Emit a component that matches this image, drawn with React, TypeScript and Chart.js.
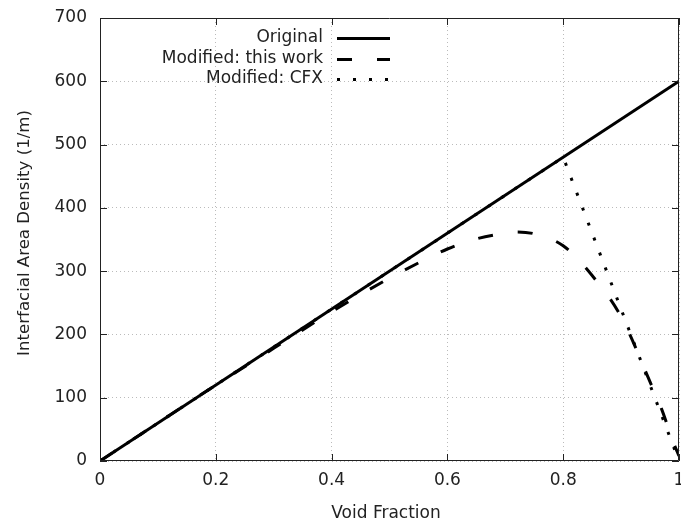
import React, { useEffect, useRef } from "react";
import { Chart, registerables } from "chart.js";

Chart.register(...registerables);

const xOriginal = [0, 1];
const yOriginal = [0, 600];

const xThisWork = [0, 0.1, 0.2, 0.3, 0.35, 0.4, 0.45, 0.5, 0.55, 0.6, 0.65, 0.7, 0.72, 0.75, 0.8, 0.85, 0.9, 0.95, 0.97, 0.99, 1.0];
const yThisWork = [0, 60, 120, 178, 207, 236, 263, 289, 313, 335, 351, 360, 362, 359, 340, 293, 228, 125, 82, 30, 8];

const xCFX = [0, 0.8, 1.0];
const yCFX = [0, 480, 0];

const xTicks = [0, 0.2, 0.4, 0.6, 0.8, 1];
const yTicks = [0, 100, 200, 300, 400, 500, 600, 700];

const legendLabels = ["Original", "Modified: this work", "Modified: CFX"];
const xTitle = "Void Fraction";
const yTitle = "Interfacial Area Density (1/m)";

const FONT = "DejaVu Sans";
const FONT_SIZE = 17;
const dashes: number[][] = [[], [15, 25], [3, 13]];

function pts(xs: number[], ys: number[]) {
  return xs.map((x, i) => ({ x, y: ys[i] }));
}

export default function App() {
  const ref = useRef<HTMLCanvasElement | null>(null);

  useEffect(() => {
    if (!ref.current) return;
    const framePlugin = {
      id: "frame",
      afterDatasetsDraw(chart: any) {
        const { ctx, chartArea } = chart;
        const { left, right, top, bottom } = chartArea;
        const xs = chart.scales.x;
        const ys = chart.scales.y;
        ctx.save();
        ctx.setLineDash([]);
        ctx.strokeStyle = "#222";
        ctx.lineWidth = 1;
        ctx.beginPath();
        ctx.rect(left + 0.5, top + 0.5, right - left - 1, bottom - top - 1);
        ctx.stroke();
        const tl = 7;
        ctx.beginPath();
        xTicks.forEach((v) => {
          const px = Math.round(xs.getPixelForValue(v)) + 0.5;
          ctx.moveTo(px, bottom);
          ctx.lineTo(px, bottom - tl);
          ctx.moveTo(px, top);
          ctx.lineTo(px, top + tl);
        });
        yTicks.forEach((v) => {
          const py = Math.round(ys.getPixelForValue(v)) + 0.5;
          ctx.moveTo(left, py);
          ctx.lineTo(left + tl, py);
          ctx.moveTo(right, py);
          ctx.lineTo(right - tl, py);
        });
        ctx.stroke();

        // legend
        ctx.font = `${FONT_SIZE}px "${FONT}"`;
        ctx.fillStyle = "#222";
        ctx.textAlign = "right";
        ctx.textBaseline = "middle";
        const rowsY = [38, 59, 79];
        legendLabels.forEach((lab, i) => {
          ctx.fillText(lab, 323, rowsY[i]);
          ctx.save();
          ctx.strokeStyle = "#000";
          ctx.lineWidth = 3;
          ctx.setLineDash(dashes[i]);
          ctx.beginPath();
          ctx.moveTo(337, rowsY[i] + 0.5);
          ctx.lineTo(390, rowsY[i] + 0.5);
          ctx.stroke();
          ctx.restore();
        });

        // axis titles
        ctx.textAlign = "center";
        ctx.fillText(xTitle, 386, 514);
        ctx.save();
        ctx.translate(25, 233);
        ctx.rotate(-Math.PI / 2);
        ctx.font = `16.6px "${FONT}"`;
        ctx.fillText(yTitle, 0, 0);
        ctx.restore();
        ctx.restore();
      },
    };

    const chart = new Chart(ref.current, {
      type: "line",
      data: {
        datasets: [
          {
            label: legendLabels[0],
            data: pts(xOriginal, yOriginal),
            borderColor: "#000",
            borderWidth: 3,
            pointRadius: 0,
            tension: 0,
          },
          {
            label: legendLabels[1],
            data: pts(xThisWork, yThisWork),
            borderColor: "#000",
            borderWidth: 3,
            borderDash: dashes[1],
            pointRadius: 0,
            cubicInterpolationMode: "monotone",
          },
          {
            label: legendLabels[2],
            data: pts(xCFX, yCFX),
            borderColor: "#000",
            borderWidth: 3,
            borderDash: dashes[2],
            pointRadius: 0,
            tension: 0,
          },
        ],
      },
      options: {
        animation: false,
        responsive: false,
        maintainAspectRatio: false,
        layout: { padding: { top: 18, right: 2, left: 0, bottom: 0 } },
        plugins: {
          legend: { display: false },
          tooltip: { enabled: false },
        },
        scales: {
          x: {
            type: "linear",
            min: 0,
            max: 1,
            afterBuildTicks: (scale: any) => {
              scale.ticks = xTicks.map((v) => ({ value: v }));
            },
            afterFit: (scale: any) => {
              scale.height = 64;
              scale.paddingRight = 0;
              scale.paddingLeft = 0;
            },
            ticks: {
              color: "#222",
              font: { family: FONT, size: FONT_SIZE },
              padding: 9,
              maxRotation: 0,
              callback: (v: any) => String(Number(Number(v).toFixed(1))),
            },
            grid: { color: "#bbbbbb", lineWidth: 1, drawTicks: false },
            border: { display: false, dash: [1, 3] },
          },
          y: {
            type: "linear",
            min: 0,
            max: 700,
            afterBuildTicks: (scale: any) => {
              scale.ticks = yTicks.map((v) => ({ value: v }));
            },
            afterFit: (scale: any) => {
              scale.width = 100;
              scale.paddingTop = 0;
              scale.paddingBottom = 0;
            },
            ticks: {
              color: "#222",
              font: { family: FONT, size: FONT_SIZE },
              padding: 13,
            },
            grid: { color: "#bbbbbb", lineWidth: 1, drawTicks: false },
            border: { display: false, dash: [1, 3] },
          },
        },
      },
      plugins: [framePlugin],
    });
    return () => chart.destroy();
  }, []);

  return (
    <div style={{ position: "absolute", left: 0, top: 0, width: 681, height: 525, background: "#fff" }}>
      <canvas ref={ref} width={681} height={525} style={{ display: "block" }} />
    </div>
  );
}
